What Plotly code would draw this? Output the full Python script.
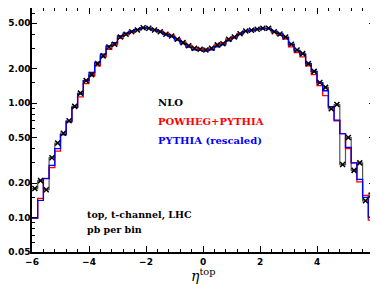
import numpy as np
import plotly.graph_objects as go

# bin edges: -6 .. 6, width 0.2
edges = [round(-6 + 0.2 * i, 1) for i in range(61)]

nlo = [0.179, 0.21, 0.175, 0.333, 0.447, 0.545, 0.70, 0.935, 1.22, 1.57,
       1.77, 2.21, 2.58, 3.09, 3.26, 3.78, 3.99, 4.20, 4.35, 4.55,
       4.50, 4.35, 4.20, 3.99, 3.85, 3.61, 3.37, 3.16, 3.01, 2.95,
       2.91, 3.01, 3.22, 3.30, 3.61, 3.78, 4.03, 4.26, 4.32, 4.41,
       4.50, 4.50, 4.20, 4.00, 3.78, 3.26, 2.90, 2.70, 2.21, 1.89,
       1.51, 1.37, 0.89, 0.97, 0.29, 0.50, 0.258, 0.30, 0.14, 0.157]

powheg = [0.099, 0.147, 0.22, 0.273, 0.38, 0.53, 0.69, 0.915, 1.13, 1.48,
          1.73, 2.11, 2.53, 2.95, 3.22, 3.68, 3.93, 4.15, 4.35, 4.50,
          4.48, 4.38, 4.25, 4.05, 3.90, 3.65, 3.40, 3.20, 3.05, 2.98,
          2.95, 3.02, 3.20, 3.35, 3.62, 3.80, 4.05, 4.22, 4.30, 4.40,
          4.45, 4.45, 4.15, 3.90, 3.61, 3.09, 2.76, 2.53, 2.11, 1.77,
          1.42, 1.16, 0.93, 0.70, 0.54, 0.40, 0.30, 0.205, 0.156, 0.095]

pythia = [0.099, 0.141, 0.219, 0.285, 0.40, 0.53, 0.69, 0.915, 1.20, 1.57,
          1.85, 2.26, 2.67, 3.16, 3.37, 3.85, 4.07, 4.25, 4.40, 4.55,
          4.48, 4.33, 4.18, 3.95, 3.80, 3.55, 3.30, 3.08, 2.92, 2.88,
          2.85, 2.92, 3.10, 3.22, 3.50, 3.70, 3.98, 4.22, 4.32, 4.42,
          4.50, 4.48, 4.25, 4.05, 3.73, 3.26, 2.87, 2.66, 2.21, 1.89,
          1.51, 1.28, 0.93, 0.71, 0.54, 0.41, 0.30, 0.215, 0.15, 0.101]

x_major = [-6, -4, -2, 0, 2, 4, 6]
x_major_text = ["\u22126", "\u22124", "\u22122", "0", "2", "4", "6"]
y_major = [0.05, 0.1, 0.2, 0.5, 1.0, 2.0, 5.0]
y_major_text = ["0.05", "0.10", "0.20", "0.50", "1.00", "2.00", "5.00"]
y_minor = [0.06, 0.07, 0.08, 0.09, 0.15, 0.3, 0.4, 0.6, 0.7, 0.8, 0.9,
           1.5, 3, 4, 6]

centers = [(edges[i] + edges[i + 1]) / 2 for i in range(len(nlo))]

fig = go.Figure()


def step(vals, color, width):
    return go.Scatter(x=edges, y=list(vals) + [vals[-1]], mode="lines",
                      line=dict(color=color, width=width, shape="hv"),
                      hoverinfo="skip", showlegend=False)


fig.add_trace(step(nlo, "#555555", 1.2))
fig.add_trace(step(powheg, "#ff0000", 1.3))
fig.add_trace(step(pythia, "#0000ff", 1.3))
fig.add_trace(go.Scatter(x=centers, y=nlo, mode="markers",
                         marker=dict(symbol="x-thin", size=5, color="black",
                                     line=dict(color="black", width=1.5)),
                         showlegend=False, hoverinfo="skip"))

tickfont = dict(family="DejaVu Sans", size=9, color="black", weight="bold")

fig.update_xaxes(range=[-6, 6], tickmode="array", tickvals=x_major,
                 ticktext=x_major_text,
                 ticks="inside", ticklen=6, tickwidth=1, tickcolor="black",
                 minor=dict(ticks="inside", ticklen=3, tick0=-6, dtick=0.4,
                            tickcolor="black", showgrid=False),
                 showline=True, linecolor="black", linewidth=1.5,
                 mirror="allticks", showgrid=False, zeroline=False,
                 tickfont=tickfont, automargin=False,
                 ticklabeloverflow="allow")
fig.update_yaxes(type="log", range=[np.log10(0.05), np.log10(6.76)],
                 tickmode="array", tickvals=y_major, ticktext=y_major_text,
                 ticks="inside", ticklen=5, tickwidth=1, tickcolor="black",
                 minor=dict(ticks="inside", ticklen=3, tickmode="array",
                            tickvals=y_minor, tickcolor="black",
                            showgrid=False),
                 showline=True, linecolor="black", linewidth=1.5,
                 mirror="allticks", showgrid=False, zeroline=False,
                 tickfont=tickfont, ticklabelstandoff=-2, automargin=False,
                 ticklabeloverflow="allow")

serif = "DejaVu Serif"
anns = [
    ("NLO", "black", 0.363, 0.611, 10),
    ("POWHEG+PYTHIA", "#ff0000", 0.363, 0.533, 10),
    ("PYTHIA (rescaled)", "#0000ff", 0.363, 0.455, 10),
    ("top, t-channel, LHC", "black", 0.155, 0.152, 9.5),
    ("pb per bin", "black", 0.155, 0.094, 9.5),
]
for text, col, ax, ay, sz in anns:
    fig.add_annotation(text=text, x=ax, y=ay, xref="paper", yref="paper",
                       xanchor="left", yanchor="middle", showarrow=False,
                       font=dict(family=serif, size=sz, color=col,
                                 weight="bold"))

fig.add_annotation(text="<i>η</i><sup>top</sup>", x=0.5, y=-0.094,
                   xref="paper", yref="paper", xanchor="center",
                   yanchor="middle", showarrow=False,
                   font=dict(family=serif, size=14, color="black"))

# page body has an 8px margin; size the figure to fit the 378x285 window
fig.update_layout(width=370, height=277,
                  margin=dict(l=24, r=4, t=0, b=33),
                  paper_bgcolor="white", plot_bgcolor="white")

fig.write_html("out.html")
